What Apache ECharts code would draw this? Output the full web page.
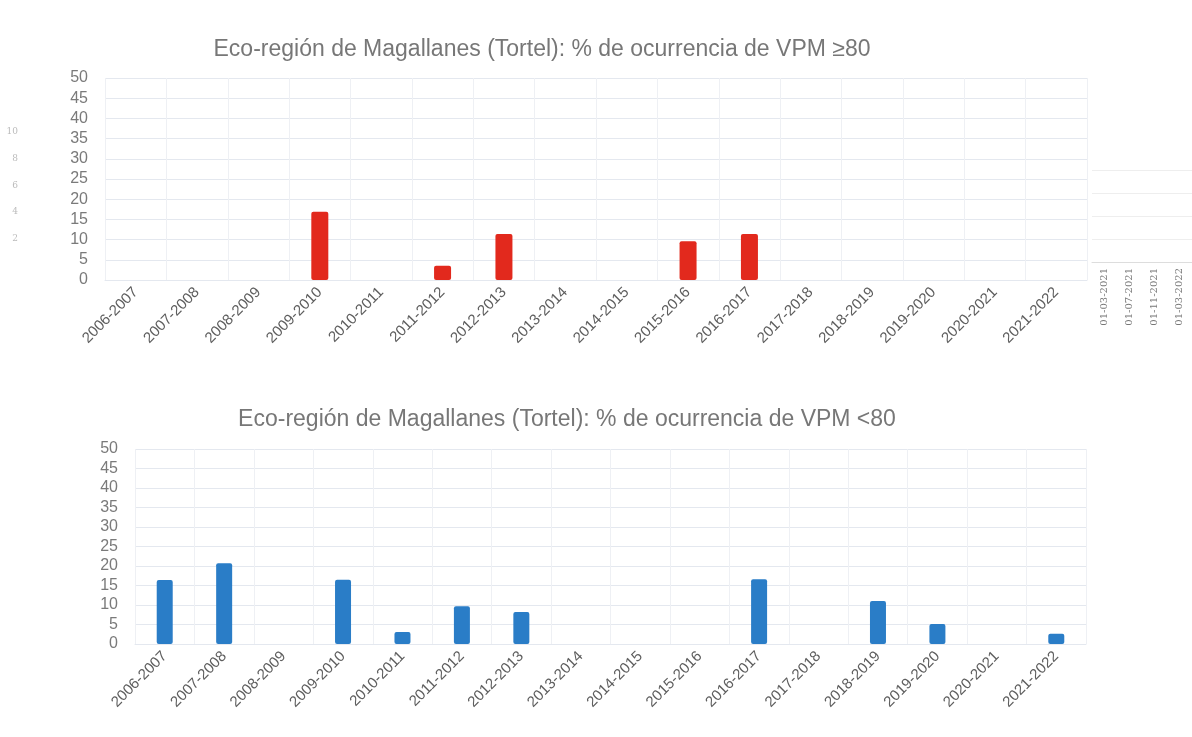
<!DOCTYPE html>
<html>
<head>
<meta charset="utf-8">
<script src="https://cdn.jsdelivr.net/npm/echarts@6/dist/echarts.min.js"></script>
<style>
  html, body { margin: 0; padding: 0; background: #fff; }
</style>
</head>
<body>
<div id="chart" style="width: 1192px; height: 737px"></div>
<script>
// temporadas
const seasons = [
  "2006-2007", "2007-2008", "2008-2009", "2009-2010", "2010-2011", "2011-2012",
  "2012-2013", "2013-2014", "2014-2015", "2015-2016", "2016-2017", "2017-2018",
  "2018-2019", "2019-2020", "2020-2021", "2021-2022",
];
// % de ocurrencia VPM >= 80
const vpmHigh = [0, 0, 0, 16.9, 0, 3.5, 11.4, 0, 0, 9.6, 11.4, 0, 0, 0, 0, 0];
// % de ocurrencia VPM < 80
const vpmLow = [16.4, 20.7, 0, 16.5, 3.1, 9.7, 8.2, 0, 0, 0, 16.6, 0, 11, 5.1, 0, 2.6];
// restos del otro grafico (escaneo)
const sideDates = ["01-03-2021", "01-07-2021", "01-11-2021", "01-03-2022"];

const titleHigh = "Eco-región de Magallanes (Tortel): % de ocurrencia de VPM ≥80";
const titleLow = "Eco-región de Magallanes (Tortel): % de ocurrencia de VPM <80";

const font = "Liberation Sans";
const gridColor = "#e4e8ef";

function catAxis(gridIndex) {
  return {
    type: "category",
    gridIndex: gridIndex,
    data: seasons,
    axisLine: { show: true, lineStyle: { color: gridColor } },
    axisTick: { show: false },
    splitLine: { show: true, lineStyle: { color: "#eef0f4" } },
    axisLabel: {
      rotate: 45, color: "#5e5e5e", fontFamily: font, fontSize: 15,
      margin: 10, interval: 0,
    },
  };
}

function valAxis(gridIndex) {
  return {
    type: "value",
    gridIndex: gridIndex,
    min: 0, max: 50, interval: 5,
    axisLine: { show: false },
    axisTick: { show: false },
    splitLine: { lineStyle: { color: gridColor } },
    axisLabel: { color: "#7a7a7a", fontFamily: font, fontSize: 16, margin: 17 },
  };
}

const chart = echarts.init(document.getElementById("chart"));
chart.setOption({
  animation: false,
  backgroundColor: "#fff",
  title: [
    {
      text: titleHigh, left: 537, top: 33, textAlign: "center",
      textStyle: { color: "#777", fontFamily: font, fontSize: 23, fontWeight: "normal" },
    },
    {
      text: titleLow, left: 562, top: 403, textAlign: "center",
      textStyle: { color: "#777", fontFamily: font, fontSize: 23, fontWeight: "normal" },
    },
  ],
  grid: [
    { left: 105, top: 78, width: 982, height: 202 },
    { left: 135, top: 449, width: 951, height: 195 },
    { left: 1092, top: 170, width: 100, height: 92 },
    { left: 22, top: 132, width: 1, height: 133 },
  ],
  xAxis: [
    catAxis(0),
    catAxis(1),
    {
      type: "category", gridIndex: 2, data: sideDates,
      axisLine: { lineStyle: { color: "#ddd" } },
      axisTick: { show: false },
      axisLabel: { rotate: 90, color: "#777", fontFamily: "DejaVu Serif", fontSize: 10, interval: 0, margin: 6 },
    },
    { type: "category", gridIndex: 3, data: [""], show: false },
  ],
  yAxis: [
    valAxis(0),
    valAxis(1),
    {
      type: "value", gridIndex: 2, min: 0, max: 4, interval: 1,
      axisLabel: { show: false }, axisLine: { show: false }, axisTick: { show: false },
      splitLine: { lineStyle: { color: "#eeeeee" } },
    },
    {
      type: "value", gridIndex: 3, min: 0, max: 10, interval: 2,
      axisLine: { show: false }, axisTick: { show: false }, splitLine: { show: false },
      axisLabel: { showMinLabel: false, color: "#bbb", fontFamily: "DejaVu Serif", fontSize: 9, margin: 4 },
    },
  ],
  series: [
    {
      name: "VPM >=80", type: "bar", xAxisIndex: 0, yAxisIndex: 0,
      data: vpmHigh, barWidth: 17,
      itemStyle: { color: "#e2291d", borderRadius: 2 },
    },
    {
      name: "VPM <80", type: "bar", xAxisIndex: 1, yAxisIndex: 1,
      data: vpmLow, barWidth: 16,
      itemStyle: { color: "#2a7dc7", borderRadius: 2 },
    },
  ],
});
</script>
</body>
</html>
